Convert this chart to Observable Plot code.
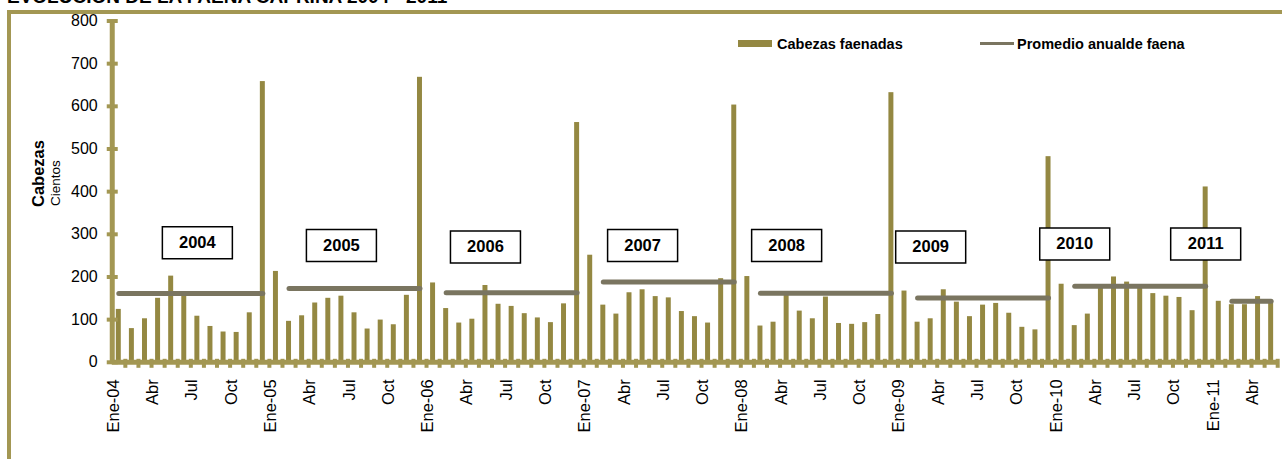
<!DOCTYPE html>
<html>
<head>
<meta charset="utf-8">
<script src="https://cdn.jsdelivr.net/npm/d3@7"></script>
<script src="https://cdn.jsdelivr.net/npm/@observablehq/plot@0.6"></script>
<style>
html,body{margin:0;padding:0;background:#fff;overflow:hidden;width:1282px;height:459px;}
body{position:relative;font-family:"Liberation Sans",Arial,sans-serif;color:#000;}
#frame{position:absolute;left:7px;top:10px;width:1400px;height:600px;border:4px solid #A39753;box-sizing:border-box;}
#title{position:absolute;left:7px;top:-13px;font-size:19px;line-height:19px;font-weight:bold;white-space:nowrap;}
#chart{position:absolute;left:0;top:0;}
.leg{position:absolute;font-size:14.5px;font-weight:bold;line-height:16px;white-space:nowrap;}
.sw{position:absolute;}
</style>
</head>
<body>
<div id="frame"></div>
<div id="title">EVOLUCIÓN DE LA FAENA CAPRINA 2004 - 2011</div>
<div id="chart"></div>
<div class="sw" style="left:738px;top:40px;width:34px;height:7px;background:#948842;"></div>
<div class="leg" style="left:777px;top:36px;">Cabezas faenadas</div>
<div class="sw" style="left:980px;top:42px;width:34px;height:3px;background:#7A7560;"></div>
<div class="leg" style="left:1017px;top:36px;">Promedio anualde faena</div>
<script>
// ---- data ----
const years = [2004, 2005, 2006, 2007, 2008, 2009, 2010, 2011];
const monthCodes = ["01","02","03","04","05","06","07","08","09","10","11","12"];
const v2004 = [124, 79, 102, 150, 202, 156, 108, 84, 71, 70, 116, 658];
const v2005 = [213, 96, 109, 139, 150, 155, 116, 78, 99, 88, 157, 668];
const v2006 = [186, 126, 92, 101, 180, 136, 131, 114, 104, 93, 137, 562];
const v2007 = [251, 134, 113, 163, 170, 154, 151, 119, 107, 92, 196, 603];
const v2008 = [201, 85, 94, 159, 120, 102, 153, 91, 89, 93, 112, 632];
const v2009 = [167, 94, 102, 170, 141, 107, 134, 138, 115, 82, 76, 482];
const v2010 = [183, 86, 113, 173, 200, 188, 174, 161, 155, 152, 121, 411];
const v2011 = [143, 135, 135, 154, 139];

// annual average (Promedio anual de faena)
const avgValues = [161, 173, 163, 188, 162, 151, 178, 143];
const avgFrom = ["2004-01","2005-02","2006-02","2007-02","2008-02","2009-02","2010-02","2011-02"];
const avgTo   = ["2004-12","2005-12","2006-12","2007-12","2008-12","2009-12","2010-12","2011-05"];

// x tick labels (every 3 months)
const tickLabels = ["Ene-04","Abr","Jul","Oct","Ene-05","Abr","Jul","Oct","Ene-06","Abr","Jul","Oct",
  "Ene-07","Abr","Jul","Oct","Ene-08","Abr","Jul","Oct","Ene-09","Abr","Jul","Oct",
  "Ene-10","Abr","Jul","Oct","Ene-11","Abr"];
const yTicks = [0, 100, 200, 300, 400, 500, 600, 700, 800];

// year annotation boxes (anchor month, value)
const labelText = ["2004","2005","2006","2007","2008","2009","2010","2011"];
const labelAt = ["2004-07","2005-06","2006-05","2007-05","2008-04","2009-03","2010-02","2010-12"];
const labelY = [280, 274, 270, 274, 274, 270, 277, 277];

// ---- build tables ----
const valuesByYear = [v2004, v2005, v2006, v2007, v2008, v2009, v2010, v2011];
const data = [];
years.forEach((yr, k) => valuesByYear[k].forEach((v, m) => data.push({cat: `${yr}-${monthCodes[m]}`, value: v})));
const cats = data.map(d => d.cat);
const avgPts = [];
years.forEach((yr, k) => {
  avgPts.push({year: yr, cat: avgFrom[k], avg: avgValues[k]});
  avgPts.push({year: yr, cat: avgTo[k], avg: avgValues[k]});
});
const ticks = tickLabels.map((t, i) => ({cat: cats[i * 3], label: t}));
const labels = labelText.map((t, i) => ({text: t, cat: labelAt[i], y: labelY[i]}));

const BAR = "#948842", AXIS = "#A39753", AVG = "#7A7560";
const half = 13.095 / 2;

const boxSymbol = {draw(ctx) { ctx.rect(-35, -16, 70, 32); }};
const yTickSym = {draw(ctx) { ctx.rect(-5.5, -2, 11, 4); }};
const xTickSym = {draw(ctx) { ctx.rect(-2, -3.5, 4, 9); }};

const plot = Plot.plot({
  width: 1282, height: 459,
  marginLeft: 111.75, marginRight: 4.8, marginTop: 20.5, marginBottom: 97.2,
  style: {fontFamily: '"Liberation Sans", Arial, sans-serif', fontSize: "16px", background: "transparent", color: "#000", overflow: "visible"},
  x: {type: "band", domain: cats, paddingInner: 0.62, paddingOuter: 0.31, round: false, axis: null},
  y: {domain: [0, 800], ticks: yTicks, tickSize: 0, tickPadding: 14.5, label: null},
  marks: [
    Plot.barY(data, {x: "cat", y: "value", fill: BAR}),
    Plot.line(avgPts, {x: "cat", y: "avg", z: "year", stroke: AVG, strokeWidth: 5, strokeLinecap: "round"}),
    Plot.ruleY([0], {stroke: AXIS, strokeWidth: 5}),
    Plot.dot(cats, {x: d => d, y: () => 0, dx: half, symbol: xTickSym, fill: AXIS, stroke: "none"}),
    Plot.ruleX([cats[0]], {x: d => d, y1: 0, y2: 800, dx: -half, stroke: AXIS, strokeWidth: 5}),
    Plot.dot(yTicks, {x: () => cats[0], y: d => d, dx: -half, symbol: yTickSym, fill: AXIS, stroke: "none"}),
    Plot.dot(labels, {x: "cat", y: "y", symbol: boxSymbol, fill: "white", stroke: "black", strokeWidth: 1.5}),
    Plot.text(labels, {x: "cat", y: "y", text: "text", fontWeight: "bold", fontSize: 16.5, fill: "black"}),
    Plot.text(ticks, {x: "cat", text: "label", frameAnchor: "bottom", rotate: -90, textAnchor: "end", dy: 17, fontSize: 16.5, fill: "black"}),
    Plot.text(["Cabezas"], {text: d => d, frameAnchor: "left", rotate: -90, dx: 38.3 - 111.75, dy: 206.5 - 191.15, fontWeight: "bold", fontSize: 16.5, fill: "black"}),
    Plot.text(["Cientos"], {text: d => d, frameAnchor: "left", rotate: -90, dx: 54.8 - 111.75, dy: 205.5 - 191.15, fontSize: 13.5, fill: "black"})
  ]
});
document.getElementById("chart").appendChild(plot);
</script>
</body>
</html>
